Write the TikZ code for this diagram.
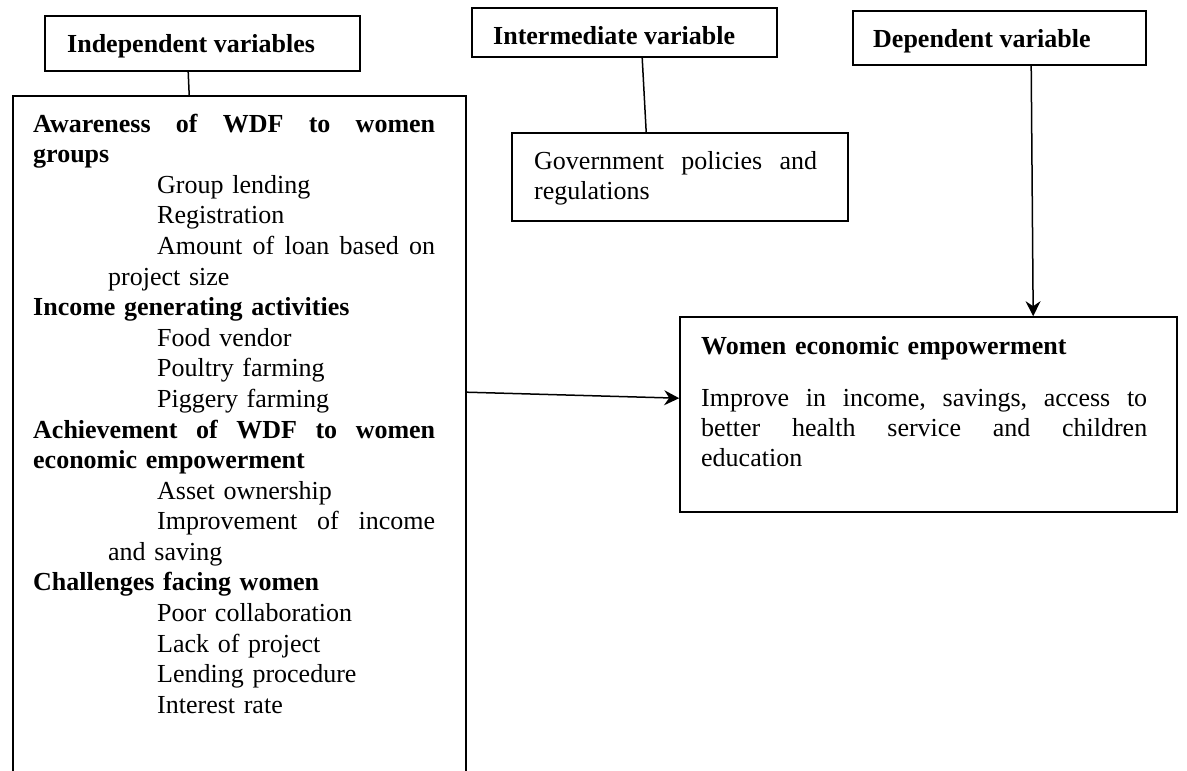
\documentclass[tikz,border=0pt]{standalone}
\usepackage{fontspec}
\setmainfont{Liberation Serif}
\usetikzlibrary{arrows.meta,calc}
\newcommand\jline[2]{\makebox[#1][l]{#2}}
\tikzset{
  box/.style={draw, line width=1.6pt, inner sep=0pt},
  txt/.style={inner sep=0pt, font=\fontsize{26}{30.6}\selectfont, align=left},
  hdr/.style={inner sep=0pt, font=\fontsize{26}{30.6}\selectfont\bfseries},
  link/.style={line width=1.5pt},
  arr/.style={line width=1.5pt, -{Stealth[length=15pt,width=15pt,inset=5pt]}}
}
\begin{document}
\begin{tikzpicture}[x=1pt,y=-1pt]
\useasboundingbox (0,0) rectangle (1187,771);
\clip (0,0) rectangle (1187,771);

% header boxes
\node[box, minimum width=315pt, minimum height=55pt] (indep) at (202.5,43.5) {};
\node[hdr, anchor=base west] (indeptxt) at (67,52) {Independent variables};

\node[box, minimum width=305pt, minimum height=49pt] (inter) at (624.5,32.5) {};
\node[hdr, anchor=base west] (intertxt) at (493,45) {Intermediate variable};

\node[box, minimum width=293pt, minimum height=54pt] (dep) at (999.5,38) {};
\node[hdr, anchor=base west] (deptxt) at (873,47) {Dependent variable};

% independent variables box (open at the bottom of the page)
\node[box, minimum width=453pt, minimum height=704pt] (left) at (239.5,448) {};
\node[txt, text width=402pt, anchor=base west] (lefttxt) at (33,132) {%
\textbf{\jline{402pt}{Awareness\hfill of\hfill WDF\hfill to\hfill women}}\\
\textbf{groups}\\
\hspace*{124pt}Group lending\\
\hspace*{124pt}Registration\\
\hspace*{124pt}\jline{278pt}{Amount\hfill of\hfill loan\hfill based\hfill on}\\
\hspace*{75pt}project size\\
\textbf{Income generating activities}\\
\hspace*{124pt}Food vendor\\
\hspace*{124pt}Poultry farming\\
\hspace*{124pt}Piggery farming\\
\textbf{\jline{402pt}{Achievement\hfill of\hfill WDF\hfill to\hfill women}}\\
\textbf{economic empowerment}\\
\hspace*{124pt}Asset ownership\\
\hspace*{124pt}\jline{278pt}{Improvement\hfill of\hfill income}\\
\hspace*{75pt}and saving\\
\textbf{Challenges facing women}\\
\hspace*{124pt}Poor collaboration\\
\hspace*{124pt}Lack of project\\
\hspace*{124pt}Lending procedure\\
\hspace*{124pt}Interest rate};

% government box
\node[box, minimum width=336pt, minimum height=88pt] (govt) at (680,177) {};
\node[txt, font=\fontsize{26}{30}\selectfont, text width=283pt, anchor=base west] (govttxt) at (534,169) {%
\jline{283pt}{Government\hfill policies\hfill and}\\
regulations};

% women box
\node[box, minimum width=497pt, minimum height=195pt] (women) at (928.5,414.5) {};
\node[txt, font=\fontsize{26}{30}\selectfont, text width=446pt, anchor=base west] (womentxt) at (701,354) {%
\textbf{Women economic empowerment}\\[22pt]
\jline{446pt}{Improve\hfill in\hfill income,\hfill savings,\hfill access\hfill to}\\
\jline{446pt}{better\hfill health\hfill service\hfill and\hfill children}\\
education};

% connectors
\draw[link] ($(indep.south west)+(144,0)$) -- ($(left.north west)+(177,0)$);
\draw[link] ($(inter.south west)+(171,0)$) -- ($(govt.north west)+(135,0)$);
\draw[arr] ($(dep.south west)+(179,0)$) -- ($(women.north west)+(354,0)$);
\draw[arr] ($(left.north east)+(0,297)$) -- ($(women.north west)+(0,82)$);
\end{tikzpicture}
\end{document}
